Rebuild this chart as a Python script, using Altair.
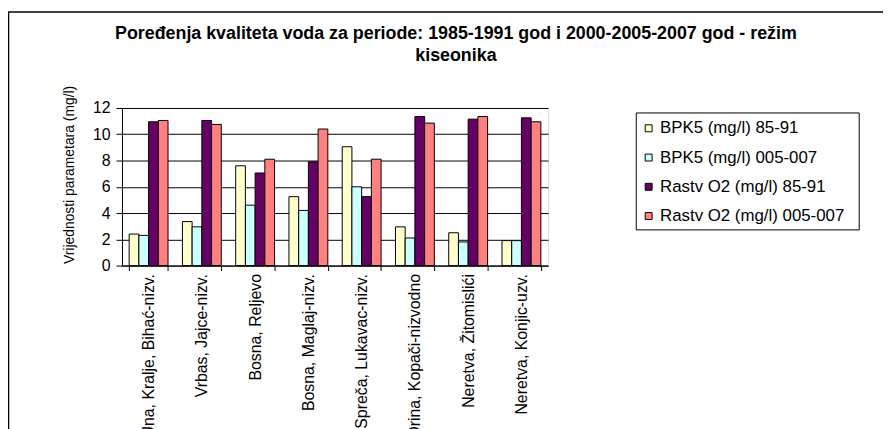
import altair as alt
import pandas as pd

SITES = ["Una, Kralje, Bihać-nizv.", "Vrbas, Jajce-nizv.", "Bosna, Reljevo",
         "Bosna, Maglaj-nizv.", "Spreča, Lukavac-nizv.", "Drina, Kopači-nizvodno",
         "Neretva, Žitomislići", "Neretva, Konjic-uzv."]
SERIES = ["BPK5 (mg/l) 85-91", "BPK5 (mg/l) 005-007",
          "Rastv O2 (mg/l) 85-91", "Rastv O2 (mg/l) 005-007"]
BPK5_8591 = [2.4, 3.35, 7.6, 5.25, 9.05, 2.95, 2.5, 1.9]
BPK5_0507 = [2.3, 2.95, 4.6, 4.2, 6.0, 2.1, 1.8, 1.9]
O2_8591 = [10.95, 11.05, 7.05, 7.9, 5.25, 11.35, 11.15, 11.25]
O2_0507 = [11.05, 10.75, 8.1, 10.4, 8.1, 10.85, 11.35, 10.95]
COLORS = ["#FFFFCC", "#CCFFFF", "#660066", "#FF8080"]
TITLE = ["Poređenja kvaliteta voda za periode: 1985-1991 god i 2000-2005-2007 god - režim",
         "kiseonika"]
Y_TITLE = "Vrijednosti parametara (mg/l)"

rows = []
for s, vals in zip(SERIES, [BPK5_8591, BPK5_0507, O2_8591, O2_0507]):
    for site, v in zip(SITES, vals):
        rows.append({"site": site, "series": s, "value": v})
df = pd.DataFrame(rows)

FONT = "Liberation Sans"
W, H = 430, 159
one = alt.Data(values=[{}])

bars = alt.Chart(df).mark_bar(stroke="black", strokeWidth=1).encode(
    x=alt.X("site:N", sort=SITES, title=None,
            scale=alt.Scale(paddingInner=0.27, paddingOuter=0.135),
            axis=alt.Axis(labelAngle=-90, labelFontSize=16, labelFont=FONT,
                          labelColor="black", labelPadding=3, tickBand="extent",
                          tickSize=5, tickColor="black", domainColor="black",
                          labelLimit=400)),
    xOffset=alt.XOffset("series:N", sort=SERIES,
                        scale=alt.Scale(paddingInner=0, paddingOuter=0)),
    y=alt.Y("value:Q", scale=alt.Scale(domain=[0, 12]), title=Y_TITLE,
            axis=alt.Axis(values=[0, 2, 4, 6, 8, 10, 12], labelFontSize=16,
                          labelFont=FONT, labelColor="black", labelPadding=6,
                          tickSize=6, tickColor="black", domainColor="black",
                          gridColor="black", gridWidth=1, titleFont=FONT,
                          titleFontSize=14, titleFontWeight="normal",
                          titleColor="black", titleX=-53, titleY=67,
                          titleBaseline="middle", titleAlign="center",
                          titleAngle=270)),
    color=alt.Color("series:N", sort=SERIES,
                    scale=alt.Scale(domain=SERIES, range=COLORS),
                    legend=alt.Legend(orient="none", legendX=523, legendY=12,
                                      title=None, symbolType="square",
                                      symbolSize=49, symbolStrokeColor="black",
                                      symbolStrokeWidth=1, labelFont=FONT,
                                      labelFontSize=17, labelColor="black",
                                      rowPadding=11.5, labelOffset=3, padding=0,
                                      labelLimit=400)),
)

legend_box = alt.Chart(one).mark_rect(fill="white", stroke="black", strokeWidth=1).encode(
    x=alt.value(519), x2=alt.value(744), y=alt.value(5), y2=alt.value(123))

title = alt.Chart(one).mark_text(text=TITLE, font=FONT, fontSize=18, fontWeight="bold",
                                 align="center", baseline="middle", lineHeight=23,
                                 color="black").encode(
    x=alt.value(337), y=alt.value(-75))

frame_v = alt.Chart(one).mark_rule(color="black", strokeWidth=1.5).encode(
    x=alt.value(-114.5), y=alt.value(-97), y2=alt.value(400))
frame_h = alt.Chart(one).mark_rule(color="black", strokeWidth=1.5).encode(
    y=alt.value(-97), x=alt.value(-115), x2=alt.value(800))

chart = alt.layer(frame_v, frame_h, legend_box, bars, title).properties(
    width=W, height=H,
    autosize=alt.AutoSizeParams(type="none"),
    padding={"left": 115, "top": 99, "right": 338, "bottom": 163},
).configure_view(fill="#C0C0C0", stroke="#808080", strokeWidth=1
).configure(background="white")

chart.save("out.html", embed_options={"renderer": "svg", "actions": False})
